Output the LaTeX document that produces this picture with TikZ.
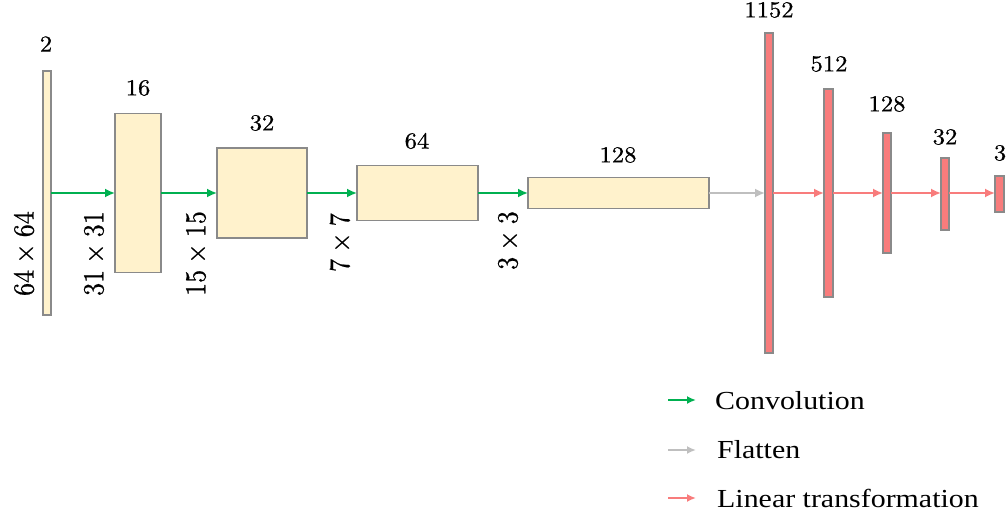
\documentclass[tikz,border=0pt]{standalone}
\usepackage{fontspec}
\usepackage{graphicx}
\usetikzlibrary{arrows.meta}
\newfontfamily\legfont{Liberation Serif}
\newfontfamily\numfont{lmroman10-regular.otf}[FakeBold=0.7]
\definecolor{mapfill}{RGB}{255,242,204}
\definecolor{fcfill}{RGB}{248,124,124}
\definecolor{edgegray}{RGB}{138,138,138}
\definecolor{convc}{RGB}{0,176,80}
\definecolor{flatc}{RGB}{191,191,191}
\definecolor{linc}{RGB}{248,124,124}
\newcommand{\hstretch}[1]{\scalebox{1.15}[1]{#1}}
\newcommand{\nstretch}[1]{\scalebox{1.07}[1]{#1}}
\newcommand{\vstretch}[1]{\scalebox{1}[1.12]{#1}}
\newcommand{\by}{\hspace{0.24em}\char"00D7\hspace{0.24em}}
\begin{document}
\begin{tikzpicture}[x=1pt,y=-1pt,
  fmap/.style={draw=edgegray, line width=1.7pt, fill=mapfill, inner sep=0pt, outer sep=0pt},
  fcbar/.style={draw=edgegray, line width=1.7pt, fill=fcfill, inner sep=0pt, outer sep=0pt},
  chanlab/.style={inner sep=0pt, font=\numfont\fontsize{23}{26}\selectfont},
  sizelab/.style={inner sep=0pt, rotate=90, anchor=east, font=\numfont\fontsize{26}{30}\selectfont},
  flow/.style={line width=1.8pt, -{Latex[length=10pt,width=9pt]}},
  legflow/.style={line width=1.8pt, -{Latex[length=9pt,width=8pt]}},
  legtext/.style={inner sep=0pt, anchor=base west, font=\legfont\fontsize{26}{30}\selectfont},
]
\useasboundingbox (0,0) rectangle (1006,516);
\clip (0,0) rectangle (1006,516);

% convolutional feature maps
\node[fmap, minimum width=8pt,   minimum height=244pt] (in)   at (47,193)    {};
\node[fmap, minimum width=46pt,  minimum height=159pt] (c16)  at (138,193)   {};
\node[fmap, minimum width=90pt,  minimum height=90pt]  (c32)  at (262,193)   {};
\node[fmap, minimum width=121pt, minimum height=55pt]  (c64)  at (417.5,193) {};
\node[fmap, minimum width=181pt, minimum height=31pt]  (c128) at (618.5,193) {};

% fully connected layers
\node[fcbar, minimum width=8pt, minimum height=320pt] (f1152) at (769,193)   {};
\node[fcbar, minimum width=9pt, minimum height=208pt] (f512)  at (828.5,193) {};
\node[fcbar, minimum width=8pt, minimum height=120pt] (f128)  at (887,193)   {};
\node[fcbar, minimum width=8pt, minimum height=72pt]  (f32)   at (945,194)   {};
\node[fcbar, minimum width=9pt, minimum height=36pt]  (f3)    at (999.5,194) {};

% channel counts
\node[chanlab] (l2)    at (46,44)   {\nstretch{2}};
\node[chanlab] (l16)   at (138,88)  {\nstretch{16}};
\node[chanlab] (l32)   at (262,123) {\nstretch{32}};
\node[chanlab] (l64)   at (417,141) {\nstretch{64}};
\node[chanlab] (l128)  at (618,155) {\nstretch{128}};
\node[chanlab] (l1152) at (769,10)  {\nstretch{1152}};
\node[chanlab] (l512)  at (829,64)  {\nstretch{512}};
\node[chanlab] (l128b) at (887,104) {\nstretch{128}};
\node[chanlab] (l32b)  at (945,137) {\nstretch{32}};
\node[chanlab] (l3)    at (1000,153) {\nstretch{3}};

% spatial sizes
\node[sizelab] (s64) at (24,211)  {\vstretch{64\by64}};
\node[sizelab] (s31) at (94,211)  {\vstretch{31\by31}};
\node[sizelab] (s15) at (196,211) {\vstretch{15\by15}};
\node[sizelab] (s7)  at (340,213) {\vstretch{7\by7}};
\node[sizelab] (s3)  at (508,211) {\vstretch{3\by3}};

% connections
\draw[flow, draw=convc] (in.east)   -- (c16.west);
\draw[flow, draw=convc] (c16.east)  -- (c32.west);
\draw[flow, draw=convc] (c32.east)  -- (c64.west);
\draw[flow, draw=convc] (c64.east)  -- (c128.west);
\draw[flow, draw=flatc] (c128.east) -- (f1152.west);
\draw[flow, draw=linc]  (f1152.east) -- (f512.west);
\draw[flow, draw=linc]  (f512.east)  -- (f128.west);
\draw[flow, draw=linc]  (f128.east)  -- (f32.west |- f128.east);
\draw[flow, draw=linc]  (f32.east |- f128.east) -- (f3.west |- f128.east);

% legend
\coordinate (k1a) at (668,400); \coordinate (k1b) at (696,400);
\coordinate (k2a) at (668,450); \coordinate (k2b) at (696,450);
\coordinate (k3a) at (668,498); \coordinate (k3b) at (696,498);
\draw[legflow, draw=convc] (k1a) -- (k1b);
\draw[legflow, draw=flatc] (k2a) -- (k2b);
\draw[legflow, draw=linc]  (k3a) -- (k3b);
\node[legtext] (t1) at (715,409) {\hstretch{Convolution}};
\node[legtext] (t2) at (717,458) {\hstretch{Flatten}};
\node[legtext] (t3) at (717,507) {\hstretch{Linear transformation}};
\end{tikzpicture}
\end{document}
